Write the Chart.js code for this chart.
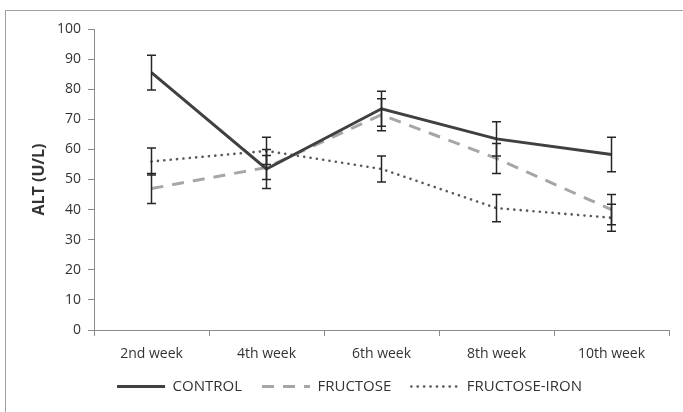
<!DOCTYPE html>
<html>
<head>
<meta charset="utf-8">
<script src="https://cdn.jsdelivr.net/npm/chart.js@4.4.0/dist/chart.umd.min.js"></script>
<style>
  html, body { margin: 0; padding: 0; background: #fff; overflow: hidden; }
  #wrap { position: relative; width: 683px; height: 412px; overflow: hidden; }
  #frame { position: absolute; left: 5px; top: 10px; width: 700px; height: 420px; border: 1px solid #a0a0a0; }
  canvas { position: absolute; left: 0; top: 0; }
</style>
</head>
<body>
<div id="wrap">
  <div id="frame"></div>
  <canvas id="myChart" width="683" height="412"></canvas>
</div>
<script>
const weeks = ['2nd week', '4th week', '6th week', '8th week', '10th week'];

const control = [85.5, 53.5, 73.5, 63.5, 58.3];
const controlErr = [5.8, 6.5, 5.8, 5.7, 5.7];

const fructose = [47, 54, 71.5, 57, 40];
const fructoseErr = [5, 4, 5.3, 5, 5];

const fructoseIron = [56, 59.5, 53.5, 40.5, 37.3];
const fructoseIronErr = [4.5, 4.5, 4.3, 4.5, 4.5];

const yTicks = [0, 10, 20, 30, 40, 50, 60, 70, 80, 90, 100];

const FONT = "'Open Sans', sans-serif";
const TEXT = '#333333';
const AXIS = '#8a8a8a';

// draws the +/- error bars for every dataset
const errorBars = {
  id: 'errorBars',
  afterDatasetsDraw(chart) {
    const ctx = chart.ctx;
    const x = chart.scales.x;
    const y = chart.scales.y;
    ctx.save();
    ctx.strokeStyle = '#262626';
    ctx.lineWidth = 1.5;
    ctx.setLineDash([]);
    chart.data.datasets.forEach(ds => {
      ds.data.forEach((v, i) => {
        const e = ds.errors[i];
        const px = x.getPixelForValue(i);
        const top = y.getPixelForValue(v + e);
        const bot = y.getPixelForValue(v - e);
        ctx.beginPath();
        ctx.moveTo(px, top); ctx.lineTo(px, bot);
        ctx.moveTo(px - 4.5, top); ctx.lineTo(px + 4.5, top);
        ctx.moveTo(px - 4.5, bot); ctx.lineTo(px + 4.5, bot);
        ctx.stroke();
      });
    });
    ctx.restore();
  }
};

// legend swatch is a zero-height rect (stroked there and back),
// so box width and dash periods are picked to make both passes line up
const ctx = document.getElementById('myChart').getContext('2d');
const myChart = new Chart(ctx, {
  type: 'line',
  data: {
    labels: weeks,
    datasets: [
      {
        label: 'CONTROL',
        data: control,
        errors: controlErr,
        borderColor: '#404040',
        borderWidth: 3,
        pointRadius: 0,
        tension: 0
      },
      {
        label: 'FRUCTOSE',
        data: fructose,
        errors: fructoseErr,
        borderColor: '#a6a6a6',
        borderWidth: 3,
        borderDash: [12, 9],
        pointRadius: 0,
        tension: 0
      },
      {
        label: 'FRUCTOSE-IRON',
        data: fructoseIron,
        errors: fructoseIronErr,
        borderColor: '#5a5a5a',
        borderWidth: 2.6,
        borderDash: [0.1, 6.3],
        borderCapStyle: 'round',
        pointRadius: 0,
        tension: 0
      }
    ]
  },
  options: {
    responsive: false,
    animation: false,
    layout: { padding: { left: 30, right: 14, top: 29, bottom: 8 } },
    plugins: {
      tooltip: { enabled: false },
      legend: {
        position: 'bottom',
        labels: {
          boxWidth: 48,
          boxHeight: 0,
          padding: 20,
          color: TEXT,
          font: { family: FONT, size: 15 }
        }
      }
    },
    scales: {
      x: {
        offset: true,
        afterFit: s => { s.height = 29; },
        grid: { offset: true, drawOnChartArea: false, tickLength: 6, color: AXIS },
        border: { color: AXIS, width: 1 },
        ticks: { color: TEXT, padding: 10, font: { family: FONT, size: 14 } }
      },
      y: {
        min: 0,
        max: 100,
        afterFit: s => { s.width = 64; },
        afterBuildTicks: s => { s.ticks = yTicks.map(v => ({ value: v })); },
        grid: { drawOnChartArea: false, tickLength: 6, color: AXIS },
        border: { color: AXIS, width: 1 },
        ticks: { color: TEXT, padding: 7, font: { family: FONT, size: 14 } },
        title: {
          display: true,
          text: 'ALT (U/L)',
          color: TEXT,
          padding: { top: 0, bottom: 0 },
          font: { family: FONT, size: 16, weight: 'bold' }
        }
      }
    }
  },
  plugins: [errorBars]
});
</script>
</body>
</html>
